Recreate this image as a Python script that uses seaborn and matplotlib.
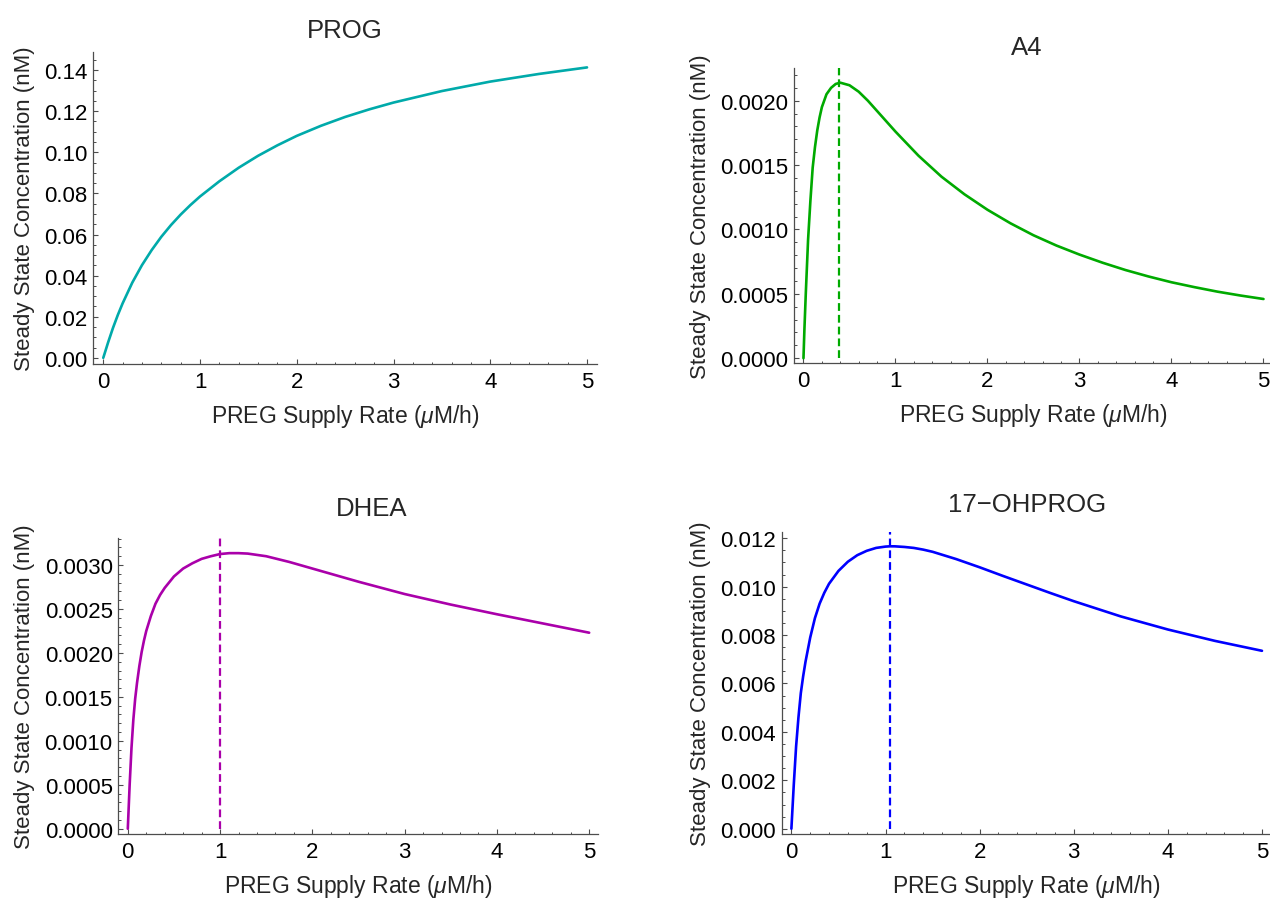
import numpy as np
import pandas as pd
import matplotlib
matplotlib.use("Agg")
import matplotlib.pyplot as plt
import seaborn as sns
from matplotlib.ticker import MultipleLocator, FormatStrFormatter

# ---------------- data ----------------
titles = ["PROG", "A4", "DHEA", "17\u2212OHPROG"]
colors = ["#00AAAA", "#00AA00", "#AA00AA", "#0000FF"]

prog_x = [0, 0.05, 0.1, 0.15, 0.2, 0.3, 0.4, 0.5, 0.6, 0.7, 0.8, 0.9, 1.0,
          1.2, 1.4, 1.6, 1.8, 2.0, 2.25, 2.5, 2.75, 3.0, 3.5, 4.0, 4.5, 5.0]
prog_y = [0, 0.0075, 0.0145, 0.0208, 0.0265, 0.0366, 0.0451, 0.0524,
          0.0589, 0.0646, 0.0697, 0.0743, 0.0785, 0.0859, 0.0925, 0.0983,
          0.1034, 0.1080, 0.1129, 0.1172, 0.1209, 0.1242, 0.1298, 0.1344,
          0.1381, 0.1413]

a4_x = [0, 0.01, 0.025, 0.05, 0.075, 0.1, 0.125, 0.15, 0.175, 0.2, 0.25,
        0.3, 0.35, 0.4, 0.5, 0.6, 0.7, 0.8, 0.9, 1.0, 1.25, 1.5, 1.75, 2.0,
        2.25, 2.5, 2.75, 3.0, 3.25, 3.5, 3.75, 4.0, 4.25, 4.5, 4.75, 5.0]
a4_y = [0, 0.00022, 0.0005, 0.00092, 0.00122, 0.00148, 0.00164, 0.00177,
        0.00187, 0.00195, 0.00205, 0.00210, 0.00213, 0.00214, 0.00212,
        0.00207, 0.00200, 0.00192, 0.00184, 0.00176, 0.001573, 0.00141,
        0.001273, 0.001153, 0.001048, 0.000955, 0.000875, 0.000805,
        0.000742, 0.000685, 0.000635, 0.000590, 0.000552, 0.000517,
        0.000487, 0.00046]

dhea_x = [0, 0.02, 0.04, 0.06, 0.08, 0.1, 0.125, 0.15, 0.175, 0.2, 0.25,
          0.3, 0.35, 0.4, 0.5, 0.6, 0.7, 0.8, 0.9, 1.0, 1.1, 1.2, 1.3, 1.4,
          1.5, 1.75, 2.0, 2.25, 2.5, 2.75, 3.0, 3.5, 4.0, 4.5, 5.0]
dhea_y = [0, 0.0005, 0.00092, 0.00124, 0.00148, 0.00166, 0.00185, 0.00201,
          0.00214, 0.00225, 0.00242, 0.00256, 0.00266, 0.00274, 0.00287,
          0.00296, 0.00302, 0.00307, 0.00310, 0.003125, 0.003135, 0.003135,
          0.00313, 0.003115, 0.00310, 0.003035, 0.00296, 0.002885, 0.00281,
          0.00274, 0.00267, 0.00255, 0.00244, 0.002335, 0.00223]

ohp_x = [0, 0.025, 0.05, 0.075, 0.1, 0.125, 0.15, 0.2, 0.25, 0.3, 0.35, 0.4,
         0.5, 0.6, 0.7, 0.8, 0.9, 1.0, 1.05, 1.1, 1.2, 1.3, 1.4, 1.5, 1.75,
         2.0, 2.25, 2.5, 2.75, 3.0, 3.5, 4.0, 4.5, 5.0]
ohp_y = [0, 0.0018, 0.0034, 0.0046, 0.0056, 0.0063, 0.0069, 0.0079, 0.0087,
         0.0093, 0.00975, 0.01012, 0.01065, 0.01103, 0.01130, 0.01148,
         0.01160, 0.011655, 0.011667, 0.011665, 0.01164, 0.01160, 0.01153,
         0.01144, 0.01114, 0.01080, 0.01044, 0.01009, 0.00974, 0.00940,
         0.00877, 0.00823, 0.00776, 0.00735]

peak_x = [None, 0.39, 1.0, 1.05]          # dashed marker positions

xs = [prog_x, a4_x, dhea_x, ohp_x]
ys = [prog_y, a4_y, dhea_y, ohp_y]

y_major = [0.02, 0.0005, 0.0005, 0.002]
y_minor = [0.005, 0.0001, 0.0001, 0.0005]
y_fmt = ["%.2f", "%.4f", "%.4f", "%.3f"]
y_lims = [(-0.003, 0.1488), (-0.000037, 0.002254), (-0.00006, 0.003304),
          (-0.00023, 0.01227)]

# ---------------- style ----------------
sns.set_style("ticks")
plt.rcParams["font.family"] = ["Liberation Sans", "DejaVu Sans"]
plt.rcParams["mathtext.fontset"] = "custom"
plt.rcParams["mathtext.it"] = "Liberation Sans:italic"
plt.rcParams["mathtext.rm"] = "Liberation Sans"

W, H = 1270, 903
fig = plt.figure(figsize=(W / 100, H / 100), dpi=100)

# axes boxes in pixels: left, right, bottom, top
boxes = [(93.3, 596.7, 365, 53), (794, 1272.7, 364, 69),
         (118.3, 598.4, 835, 539.3), (781.7, 1271.4, 835.3, 532.7)]
title_pos = [(345, 37.5), (1027, 55), (372, 516), (1027, 512.5)]

axis_col = "#4d4d4d"
for i in range(4):
    l, r, b, t = boxes[i]
    ax = fig.add_axes([l / W, 1 - b / H, (r - l) / W, (b - t) / H])
    df = pd.DataFrame({"x": xs[i], "y": ys[i]})
    sns.lineplot(data=df, x="x", y="y", ax=ax, color=colors[i], lw=1.9,
                 estimator=None, sort=False)
    ax.set_xlim(-0.103, 5.1)
    ax.set_ylim(*y_lims[i])
    if peak_x[i] is not None:
        ax.vlines(peak_x[i], 0, y_lims[i][1], colors=colors[i], lw=1.6,
                  linestyles=(0, (3.5, 1.8)))
    ax.xaxis.set_major_locator(MultipleLocator(1))
    ax.xaxis.set_minor_locator(MultipleLocator(0.2))
    ax.yaxis.set_major_locator(MultipleLocator(y_major[i]))
    ax.yaxis.set_minor_locator(MultipleLocator(y_minor[i]))
    ax.yaxis.set_major_formatter(FormatStrFormatter(y_fmt[i]))
    ax.xaxis.set_major_formatter(FormatStrFormatter("%d"))
    for s in ["top", "right"]:
        ax.spines[s].set_visible(False)
    for s in ["left", "bottom"]:
        ax.spines[s].set_color(axis_col)
        ax.spines[s].set_linewidth(0.9)
    ax.tick_params(which="major", direction="in", length=3.3, width=0.8,
                   color=axis_col, labelsize=16, labelcolor="black")
    ax.tick_params(which="minor", direction="in", length=1.8, width=0.7,
                   color=axis_col)
    ax.tick_params(axis="x", which="major", pad=5)
    ax.tick_params(axis="y", which="major", pad=4)
    ax.set_xlabel(r"PREG Supply Rate ($\mu$M/h)", fontsize=16.5, labelpad=7)
    ax.set_ylabel("Steady State Concentration (nM)", fontsize=16, labelpad=7)
    tx, ty = title_pos[i]
    fig.text(tx / W, 1 - ty / H, titles[i], ha="center", va="baseline",
             fontsize=18.5)

fig.savefig("out.png", dpi=100)
